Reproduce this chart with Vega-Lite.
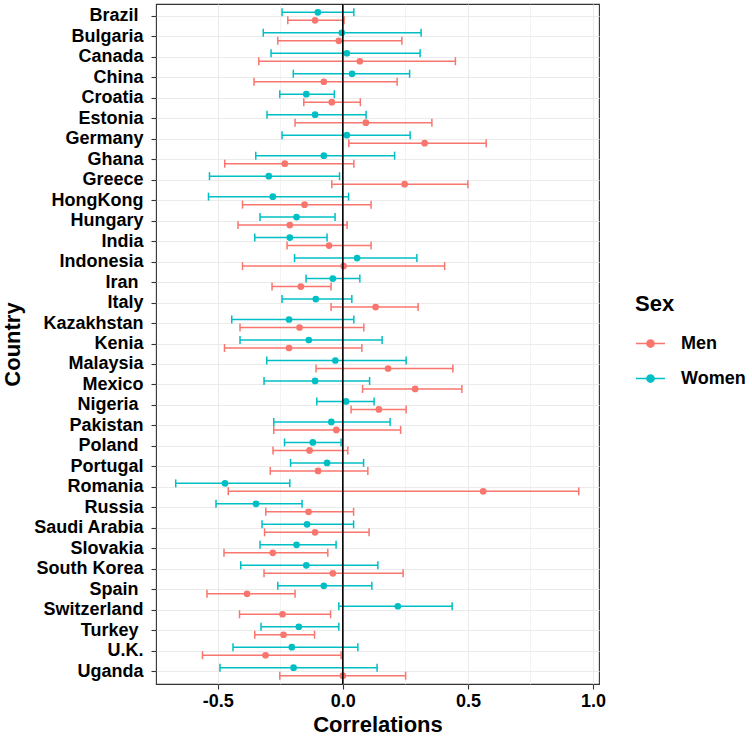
{
  "$schema": "https://vega.github.io/schema/vega-lite/v6.json",
  "width": 443,
  "height": 680,
  "autosize": {"type": "pad"},
  "padding": {"left": 1, "top": 3, "right": 0, "bottom": 0},
  "background": "white",
  "config": {"font": "Liberation Sans", "view": {"stroke": "#333333", "strokeWidth": 1.1}},
  "data": {"values": [
    {"country": "Brazil ", "sex": "Women", "r": -0.100, "lo": -0.243, "hi": 0.044},
    {"country": "Brazil ", "sex": "Men", "r": -0.111, "lo": -0.220, "hi": 0.005},
    {"country": "Bulgaria", "sex": "Women", "r": -0.004, "lo": -0.318, "hi": 0.313},
    {"country": "Bulgaria", "sex": "Men", "r": -0.016, "lo": -0.260, "hi": 0.236},
    {"country": "Canada", "sex": "Women", "r": 0.016, "lo": -0.287, "hi": 0.309},
    {"country": "Canada", "sex": "Men", "r": 0.068, "lo": -0.336, "hi": 0.450},
    {"country": "China", "sex": "Women", "r": 0.037, "lo": -0.198, "hi": 0.267},
    {"country": "China", "sex": "Men", "r": -0.076, "lo": -0.355, "hi": 0.217},
    {"country": "Croatia", "sex": "Women", "r": -0.146, "lo": -0.252, "hi": -0.034},
    {"country": "Croatia", "sex": "Men", "r": -0.044, "lo": -0.156, "hi": 0.070},
    {"country": "Estonia", "sex": "Women", "r": -0.111, "lo": -0.303, "hi": 0.093},
    {"country": "Estonia", "sex": "Men", "r": 0.092, "lo": -0.191, "hi": 0.356},
    {"country": "Germany", "sex": "Women", "r": 0.016, "lo": -0.243, "hi": 0.269},
    {"country": "Germany", "sex": "Men", "r": 0.327, "lo": 0.024, "hi": 0.573},
    {"country": "Ghana", "sex": "Women", "r": -0.076, "lo": -0.348, "hi": 0.207},
    {"country": "Ghana", "sex": "Men", "r": -0.232, "lo": -0.472, "hi": 0.044},
    {"country": "Greece", "sex": "Women", "r": -0.296, "lo": -0.533, "hi": -0.013},
    {"country": "Greece", "sex": "Men", "r": 0.247, "lo": -0.044, "hi": 0.500},
    {"country": "HongKong", "sex": "Women", "r": -0.280, "lo": -0.537, "hi": 0.023},
    {"country": "HongKong", "sex": "Men", "r": -0.153, "lo": -0.401, "hi": 0.113},
    {"country": "Hungary", "sex": "Women", "r": -0.185, "lo": -0.331, "hi": -0.031},
    {"country": "Hungary", "sex": "Men", "r": -0.212, "lo": -0.419, "hi": 0.017},
    {"country": "India", "sex": "Women", "r": -0.212, "lo": -0.352, "hi": -0.063},
    {"country": "India", "sex": "Men", "r": -0.055, "lo": -0.223, "hi": 0.113},
    {"country": "Indonesia", "sex": "Women", "r": 0.057, "lo": -0.193, "hi": 0.296},
    {"country": "Indonesia", "sex": "Men", "r": 0.003, "lo": -0.401, "hi": 0.407},
    {"country": "Iran ", "sex": "Women", "r": -0.040, "lo": -0.147, "hi": 0.068},
    {"country": "Iran ", "sex": "Men", "r": -0.168, "lo": -0.283, "hi": -0.047},
    {"country": "Italy", "sex": "Women", "r": -0.108, "lo": -0.243, "hi": 0.036},
    {"country": "Italy", "sex": "Men", "r": 0.131, "lo": -0.047, "hi": 0.301},
    {"country": "Kazakhstan", "sex": "Women", "r": -0.215, "lo": -0.444, "hi": 0.044},
    {"country": "Kazakhstan", "sex": "Men", "r": -0.173, "lo": -0.411, "hi": 0.084},
    {"country": "Kenia", "sex": "Women", "r": -0.136, "lo": -0.411, "hi": 0.157},
    {"country": "Kenia", "sex": "Men", "r": -0.215, "lo": -0.473, "hi": 0.076},
    {"country": "Malaysia", "sex": "Women", "r": -0.030, "lo": -0.304, "hi": 0.253},
    {"country": "Malaysia", "sex": "Men", "r": 0.181, "lo": -0.107, "hi": 0.440},
    {"country": "Mexico", "sex": "Women", "r": -0.111, "lo": -0.315, "hi": 0.107},
    {"country": "Mexico", "sex": "Men", "r": 0.289, "lo": 0.079, "hi": 0.476},
    {"country": "Nigeria ", "sex": "Women", "r": 0.013, "lo": -0.104, "hi": 0.125},
    {"country": "Nigeria ", "sex": "Men", "r": 0.144, "lo": 0.033, "hi": 0.253},
    {"country": "Pakistan", "sex": "Women", "r": -0.046, "lo": -0.276, "hi": 0.189},
    {"country": "Pakistan", "sex": "Men", "r": -0.026, "lo": -0.276, "hi": 0.231},
    {"country": "Poland ", "sex": "Women", "r": -0.120, "lo": -0.233, "hi": -0.007},
    {"country": "Poland ", "sex": "Men", "r": -0.133, "lo": -0.279, "hi": 0.020},
    {"country": "Portugal", "sex": "Women", "r": -0.063, "lo": -0.209, "hi": 0.083},
    {"country": "Portugal", "sex": "Men", "r": -0.099, "lo": -0.290, "hi": 0.100},
    {"country": "Romania", "sex": "Women", "r": -0.471, "lo": -0.668, "hi": -0.212},
    {"country": "Romania", "sex": "Men", "r": 0.561, "lo": -0.458, "hi": 0.943},
    {"country": "Russia", "sex": "Women", "r": -0.347, "lo": -0.507, "hi": -0.163},
    {"country": "Russia", "sex": "Men", "r": -0.137, "lo": -0.308, "hi": 0.043},
    {"country": "Saudi Arabia", "sex": "Women", "r": -0.143, "lo": -0.323, "hi": 0.043},
    {"country": "Saudi Arabia", "sex": "Men", "r": -0.111, "lo": -0.313, "hi": 0.105},
    {"country": "Slovakia", "sex": "Women", "r": -0.185, "lo": -0.331, "hi": -0.027},
    {"country": "Slovakia", "sex": "Men", "r": -0.280, "lo": -0.475, "hi": -0.060},
    {"country": "South Korea", "sex": "Women", "r": -0.146, "lo": -0.408, "hi": 0.140},
    {"country": "South Korea", "sex": "Men", "r": -0.040, "lo": -0.315, "hi": 0.241},
    {"country": "Spain ", "sex": "Women", "r": -0.076, "lo": -0.260, "hi": 0.116},
    {"country": "Spain ", "sex": "Men", "r": -0.383, "lo": -0.543, "hi": -0.191},
    {"country": "Switzerland", "sex": "Women", "r": 0.220, "lo": -0.016, "hi": 0.437},
    {"country": "Switzerland", "sex": "Men", "r": -0.241, "lo": -0.413, "hi": -0.049},
    {"country": "Turkey ", "sex": "Women", "r": -0.176, "lo": -0.327, "hi": -0.016},
    {"country": "Turkey ", "sex": "Men", "r": -0.237, "lo": -0.352, "hi": -0.113},
    {"country": "U.K.", "sex": "Women", "r": -0.204, "lo": -0.439, "hi": 0.060},
    {"country": "U.K.", "sex": "Men", "r": -0.309, "lo": -0.561, "hi": -0.007},
    {"country": "Uganda", "sex": "Women", "r": -0.197, "lo": -0.491, "hi": 0.137},
    {"country": "Uganda", "sex": "Men", "r": 0.000, "lo": -0.252, "hi": 0.251}
  ]},
  "layer": [
    {
      "mark": {"type": "rule", "strokeWidth": 1.5},
      "encoding": {
        "y": {"field": "country", "type": "nominal", "sort": null,
          "scale": {"type": "band", "paddingInner": 0, "paddingOuter": 0.1},
          "axis": {"title": "Country", "titleFontSize": 22, "titleFontWeight": "bold", "titleColor": "black", "titlePadding": 8,
            "labelFontSize": 18, "labelFontWeight": "bold", "labelColor": "black",
            "labelPadding": {"condition": {"test": "lastindexof(datum.value, ' ') == length(datum.value) - 1", "value": 13}, "value": 8},
            "tickSize": 5, "tickColor": "#333333", "tickWidth": 1.1, "domain": false, "bandPosition": 0.5,
            "grid": true, "gridColor": "#EBEBEB", "gridWidth": 1.1}},
        "yOffset": {"field": "sex", "type": "nominal", "scale": {"type": "point", "padding": 0.78, "domain": ["Women", "Men"]}},
        "x": {"field": "lo", "type": "quantitative",
          "scale": {"domain": [-0.7468, 1.024], "nice": false, "zero": false},
          "axis": {"title": "Correlations", "titleFontSize": 22, "titleFontWeight": "bold", "titleColor": "black", "titlePadding": 4,
            "values": [-0.5, -0.25, 0, 0.25, 0.5, 0.75, 1],
            "labelExpr": "datum.value == -0.5 ? '-0.5' : datum.value == 0 ? '0.0' : datum.value == 0.5 ? '0.5' : datum.value == 1 ? '1.0' : ''",
            "labelFontSize": 18, "labelFontWeight": "bold", "labelColor": "black", "labelPadding": 3, "labelFlush": false, "labelOverlap": false,
            "tickSize": 5, "tickColor": "#333333", "tickWidth": 1.1,
            "tickOpacity": {"condition": {"test": "abs(datum.value) == 0.25 || abs(datum.value) == 0.75", "value": 0}, "value": 1},
            "domain": false, "grid": true, "gridColor": "#EBEBEB",
            "gridWidth": {"condition": {"test": "abs(datum.value) == 0.25 || abs(datum.value) == 0.75", "value": 0.6}, "value": 1.1}}},
        "x2": {"field": "hi"},
        "color": {"field": "sex", "type": "nominal", "scale": {"domain": ["Men", "Women"], "range": ["#F8766D", "#00BFC4"]},
          "legend": {"title": "Sex", "orient": "none", "legendX": 479, "legendY": 290, "padding": 0,
            "titleFontSize": 22, "titleFontWeight": "bold", "titleColor": "black", "titlePadding": 12,
            "labelFontSize": 18, "labelFontWeight": "bold", "labelColor": "black", "labelOffset": 15,
            "symbolType": "M-1,0L1,0M0.25,0A0.25,0.25,0,1,1,-0.25,0A0.25,0.25,0,1,1,0.25,0Z",
            "symbolSize": 841, "symbolStrokeWidth": 1.5, "rowPadding": 10,
            "encode": {"symbols": {"update": {"stroke": {"scale": "color", "field": "value"}, "fill": {"scale": "color", "field": "value"}, "opacity": {"value": 1}, "strokeWidth": {"value": 1.5}}}}}}
      }
    },
    {
      "mark": {"type": "point", "shape": "M0,-1L0,1", "filled": false, "size": 64, "strokeWidth": 1.5, "opacity": 1},
      "encoding": {
        "y": {"field": "country", "type": "nominal", "sort": null},
        "yOffset": {"field": "sex", "type": "nominal"},
        "x": {"field": "lo", "type": "quantitative"},
        "color": {"field": "sex", "type": "nominal"}
      }
    },
    {
      "mark": {"type": "point", "shape": "M0,-1L0,1", "filled": false, "size": 64, "strokeWidth": 1.5, "opacity": 1},
      "encoding": {
        "y": {"field": "country", "type": "nominal", "sort": null},
        "yOffset": {"field": "sex", "type": "nominal"},
        "x": {"field": "hi", "type": "quantitative"},
        "color": {"field": "sex", "type": "nominal"}
      }
    },
    {
      "mark": {"type": "point", "shape": "circle", "filled": true, "size": 45, "opacity": 1, "strokeWidth": 0},
      "encoding": {
        "y": {"field": "country", "type": "nominal", "sort": null},
        "yOffset": {"field": "sex", "type": "nominal"},
        "x": {"field": "r", "type": "quantitative"},
        "color": {"field": "sex", "type": "nominal"}
      }
    },
    {
      "transform": [{"aggregate": [{"op": "count", "as": "n"}]}],
      "mark": {"type": "rule", "color": "black", "strokeWidth": 1.6},
      "encoding": {"x": {"datum": 0, "type": "quantitative"}}
    }
  ]
}
